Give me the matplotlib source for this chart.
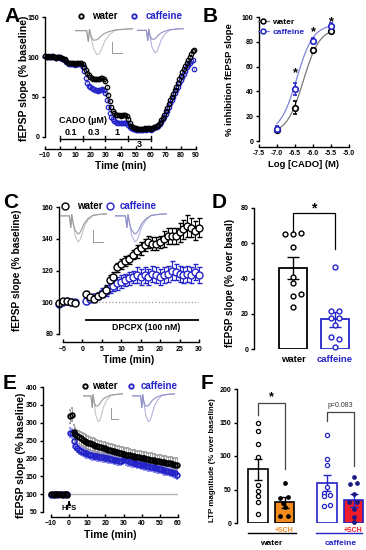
import numpy as np
import matplotlib.pyplot as plt
from matplotlib.lines import Line2D

plt.rcParams['font.family'] = ['Liberation Sans', 'DejaVu Sans']
plt.rcParams['font.weight'] = 'bold'
plt.rcParams['axes.labelweight'] = 'bold'
plt.rcParams['axes.linewidth'] = 1.0
plt.rcParams['xtick.major.width'] = 1.0
plt.rcParams['ytick.major.width'] = 1.0

BLUE = '#2424c8'
LBLUE = '#8c8ce6'
GREY = '#9a9a9a'
ORANGE = '#f28a1c'
RED = '#ee1c2a'
NAVY = '#1a1a80'

# ---------------- A: CADO time course ----------------
a_time = np.arange(-10, 90)
a_water = [101, 100, 101, 100, 100, 101, 100, 99, 100, 100,
           100, 99, 98, 97, 95,
           93, 92, 92, 92, 92, 91, 92, 92, 92, 93,
           91, 88, 84, 80, 77,
           75, 74, 73, 72, 73, 72, 73, 74, 74, 73,
           70, 62, 53, 45, 38,
           33, 30, 28, 27, 27, 26, 27, 27, 27, 26,
           22, 17, 14, 12, 11,
           11, 10, 10, 10, 10, 10, 11, 10, 11, 11,
           10, 11, 12, 13, 14,
           15, 18, 21, 24, 28, 32, 36, 41, 46, 50,
           54, 59, 63, 68, 72, 76, 81, 85, 89, 93,
           96, 100, 104, 107, 109]
a_caff = [101, 100, 100, 100, 101, 100, 100, 99, 100, 100,
          99, 98, 97, 96, 94,
          92, 91, 91, 91, 91, 90, 91, 91, 91, 91,
          88, 82, 74, 68, 64,
          62, 61, 60, 59, 59, 58, 59, 59, 60, 59,
          55, 46, 37, 30, 25,
          22, 20, 19, 18, 18, 18, 17, 18, 18, 17,
          15, 13, 11, 10, 10,
          9, 9, 9, 9, 9, 9, 10, 9, 10, 10,
          9, 10, 11, 12, 13,
          14, 16, 19, 22, 25, 29, 33, 37, 42, 46,
          50, 55, 59, 63, 67, 71, 75, 79, 83, 87,
          90, 92, 95, 96, 85]
a_water_err = 2.5
a_caff_err = 3.0
cado_conc = ['0.1', '0.3', '1', '3']
cado_start = [0, 15, 30, 45]
cado_len = 15

# ---------------- B: concentration-response ----------------
b_logc = [-7.0, -6.5, -6.0, -5.5]
b_water = [9, 27, 73, 89]
b_water_err = [2, 5, 2, 2]
b_caff = [10, 42, 81, 93]
b_caff_err = [2, 5, 2, 2]
fit_water = dict(bottom=6, top=91, logec50=-6.27, hill=1.9)
fit_caff = dict(bottom=7, top=94, logec50=-6.45, hill=1.9)
b_star_x = [-6.5, -6.0, -5.5]
b_star_y = [55, 88, 96]

# ---------------- C: DPCPX ----------------
c_time_pre = [-6, -5, -4, -3, -2]
c_water_pre = [99.5, 100.5, 101, 100, 99.5]
c_caff_pre = [99, 100, 100.5, 100, 100]
c_time = np.arange(1, 31)
c_water = [105, 103, 102, 104, 105, 108, 114, 116, 122, 124,
           126, 127, 130, 132, 134, 136, 138, 137, 137, 138,
           140, 142, 142, 142, 144, 146, 148, 147, 145, 147]
c_water_err = [2, 2, 2, 2, 2, 3, 3, 3, 3, 3,
               3, 3, 3, 4, 4, 4, 4, 4, 4, 4,
               5, 5, 5, 5, 6, 6, 7, 6, 6, 6]
c_caff = [101, 102, 103, 104, 106, 107, 109, 110, 112, 113,
          114, 115, 116, 117, 116, 117, 116, 118, 117, 116,
          117, 118, 120, 119, 118, 117, 118, 117, 119, 117]
c_caff_err = [2, 2, 2, 2, 3, 3, 3, 3, 4, 4,
              4, 4, 4, 5, 5, 5, 5, 5, 5, 5,
              5, 5, 6, 5, 5, 5, 5, 5, 5, 5]

# ---------------- D: DPCPX effect ----------------
d_groups = ['water', 'caffeine']
d_mean = [46, 16.8]
d_sem = [6, 4.3]
d_water_pts = [65.2, 65.2, 65.8, 57.6, 40.6, 37.3, 30.3, 31.1, 23.9]
d_water_dx = [-0.2, 0.0, 0.2, 0.0, 0.0, 0.0, 0.0, 0.2, 0.0]
d_caff_pts = [46.3, 21.8, 21.8, 17.8, 17.8, 13.6, 7.0, 5.7, 0.9]
d_caff_dx = [0.0, -0.1, 0.1, -0.1, 0.1, 0.0, -0.1, 0.1, 0.0]

# ---------------- E: LTP time course ----------------
e_time_pre = np.arange(-10, 0)
e_water_pre = [101, 100, 99, 100, 101, 100, 99, 100, 100, 99]
e_caff_pre = [98, 99, 100, 100, 99, 101, 100, 99, 100, 100]
e_time = np.arange(0, 60) + 0.5
e_water = [318, 323, 275, 268, 263, 259, 256, 253, 250, 247,
           244, 242, 240, 238, 236, 234, 232, 231, 229, 228,
           226, 225, 223, 222, 220, 219, 217, 216, 214, 213,
           212, 211, 210, 209, 207, 206, 205, 204, 203, 202,
           201, 200, 199, 198, 197, 196, 195, 194, 193, 192,
           191, 190, 189, 188, 187, 186, 185, 184, 183, 182]
e_caff = [272, 270, 248, 236, 229, 224, 221, 218, 216, 214,
          212, 211, 209, 208, 207, 206, 205, 204, 203, 202,
          201, 200, 199, 198, 197, 196, 195, 194, 193, 197,
          199, 195, 192, 190, 189, 188, 187, 185, 184, 183,
          182, 181, 179, 178, 177, 176, 175, 173, 172, 171,
          170, 168, 167, 166, 165, 163, 162, 160, 158, 155]
e_water_err = 18
e_caff_err = 12

# ---------------- F: LTP magnitude ----------------
f_pos = [0, 1, 2.6, 3.6]
f_mean = [80, 31, 60, 34]
f_sem = [16, 8, 12, 10]
f_water = [149, 137, 118, 99, 56, 48, 41, 31, 13]
f_water_sch = [60, 38, 39, 30, 24, 11, 11]
f_water_sch_dx = [0, -0.16, 0.13, -0.06, 0, -0.16, 0.13]
f_caff = [131, 96, 87, 53, 45, 40, 42, 25, 27]
f_caff_dx = [0, 0, 0, 0, -0.13, -0.13, 0.13, -0.13, 0.13]
f_caff_sch = [68, 58, 60, 44, 31, 31, 21, 9, 1.5]
f_caff_sch_dx = [0, -0.14, 0.14, 0, -0.16, 0.14, 0, 0, 0]

# inset traces (normalised)
trace_t = [0.00, 0.20, 0.23, 0.25, 0.28, 0.32, 0.38, 0.42, 0.46, 0.52, 0.60, 0.70, 0.85, 1.00]
trace_deep = [0.00, 0.00, -0.45, 0.05, -0.30, -0.75, -1.00, -0.95, -0.75, -0.40, -0.15, 0.02, 0.06, 0.08]
trace_small = [0.00, 0.00, -0.45, 0.05, -0.25, -0.40, -0.38, -0.30, -0.20, -0.10, -0.03, 0.03, 0.06, 0.08]
trace_mid = [0.00, 0.00, -0.45, 0.05, -0.28, -0.55, -0.70, -0.66, -0.52, -0.28, -0.10, 0.02, 0.06, 0.08]

W, H = 366, 550
fig = plt.figure(figsize=(W / 100, H / 100), dpi=100)


def px_axes(x0, x1, ytop, ybot):
    return fig.add_axes([x0 / W, 1 - ybot / H, (x1 - x0) / W, (ybot - ytop) / H])


def ftext(x, y, s, **kw):
    fig.text(x / W, 1 - y / H, s, **kw)


def prism(ax, xoff=0, ybounds=None, xbounds=None):
    ax.spines['top'].set_visible(False)
    ax.spines['right'].set_visible(False)
    ax.spines['bottom'].set_position(('outward', xoff))
    ax.patch.set_visible(False)
    ax.tick_params(axis='both', labelsize=5, length=2.5, pad=1.5)
    ax.tick_params(axis='x', direction='in', pad=2.5)
    if ybounds:
        ax.spines['left'].set_bounds(*ybounds)
    if xbounds:
        ax.spines['bottom'].set_bounds(*xbounds)


def inset(x0, x1, ytop, ybot, t1, t2, c1, c2):
    ia = px_axes(x0, x1, ytop, ybot)
    ia.plot(trace_t, t1, color=c1, lw=0.8)
    ia.plot(trace_t, t2, color=c2, lw=0.8)
    ia.set_xlim(0, 1)
    ia.set_ylim(-1.05, 0.15)
    ia.axis('off')


# ---------------- panel A ----------------
axA = px_axes(45, 196, 17, 137)
axA.errorbar(a_time, a_caff, yerr=a_caff_err, fmt='o', ms=3.2, mfc='none', mec=BLUE, mew=0.9,
             ecolor=LBLUE, elinewidth=0.5, capsize=0, clip_on=False)
axA.errorbar(a_time, a_water, yerr=a_water_err, fmt='o', ms=3.2, mfc='none', mec='k', mew=0.9,
             ecolor='#777777', elinewidth=0.5, capsize=0, clip_on=False)
axA.set_xlim(-10, 90)
axA.set_ylim(0, 150)
axA.set_xticks(range(-10, 91, 10))
axA.set_yticks([0, 50, 100, 150])
prism(axA, xoff=8.6, ybounds=(0, 150), xbounds=(-10, 90))
axA.set_xlabel('Time (min)', fontsize=7.3, labelpad=1.5)
axA.plot([cado_start[0], cado_start[-1] + cado_len], [-2, -2], color='k', lw=1, clip_on=False)
for s in cado_start + [cado_start[-1] + cado_len]:
    axA.plot([s, s], [-5, 1], color='k', lw=1, clip_on=False)
for s, c in zip(cado_start, cado_conc):
    if c == '3':
        axA.text(s + cado_len / 2, -4, c, ha='center', va='top', fontsize=6.5)
    else:
        axA.text(s + cado_len / 2, 0.5, c, ha='center', va='bottom', fontsize=6.5)
axA.text(-0.7, 20, 'CADO (\u00b5M)', ha='left', va='center', fontsize=6.5)
ftext(24, 78, 'fEPSP slope (% baseline)', rotation=90, ha='center', va='center', fontsize=7.6)

# ---------------- panel B ----------------
axB = px_axes(259, 349, 17, 141)
xs = np.linspace(-7.0, -5.5, 120)
for fit, col in [(fit_water, '#7a7a7a'), (fit_caff, '#8282d8')]:
    ys = fit['bottom'] + (fit['top'] - fit['bottom']) / (1 + 10 ** ((fit['logec50'] - xs) * fit['hill']))
    axB.plot(xs, ys, color=col, lw=0.9)
axB.errorbar(b_logc, b_water, yerr=b_water_err, fmt='o', ms=4, mfc='white', mec='k', mew=1.2,
             ecolor='k', elinewidth=0.8, capsize=1.5, zorder=3)
axB.errorbar(b_logc, b_caff, yerr=b_caff_err, fmt='o', ms=4, mfc='white', mec=BLUE, mew=1.2,
             ecolor=BLUE, elinewidth=0.8, capsize=1.5, zorder=4)
for x, y in zip(b_star_x, b_star_y):
    axB.text(x, y, '*', ha='center', va='center', fontsize=9)
axB.set_xlim(-7.5, -5.0)
axB.set_ylim(0, 100)
axB.set_xticks([-7.5, -7.0, -6.5, -6.0, -5.5, -5.0])
axB.set_xticklabels(['-7.5', '-7.0', '-6.5', '-6.0', '-5.5', '-5.0'])
axB.set_yticks(range(0, 101, 20))
prism(axB, xoff=4.3, ybounds=(0, 100), xbounds=(-7.5, -5.0))
axB.set_xlabel('Log [CADO] (M)', fontsize=6.8, labelpad=2)
hB = [Line2D([0], [0], color='#7a7a7a', lw=0.9, marker='o', ms=3.5, mfc='white', mec='k', mew=1.1),
      Line2D([0], [0], color='#8282d8', lw=0.9, marker='o', ms=3.5, mfc='white', mec=BLUE, mew=1.1)]
legB = axB.legend(hB, ['water', 'caffeine'], loc='upper left', bbox_to_anchor=(-0.02, 1.0),
                  frameon=False, fontsize=6, handlelength=1.3, handletextpad=0.4,
                  labelspacing=0.25, borderaxespad=0, borderpad=0.1)
legB.get_texts()[1].set_color(BLUE)
ftext(229, 80, '% inhibition fEPSP slope', rotation=90, ha='center', va='center', fontsize=6.8)

# ---------------- panel C ----------------
axC = px_axes(59, 199, 207, 334)
axC.plot([0, 30], [100, 100], color='#999999', ls=':', lw=0.9)
axC.errorbar(c_time_pre, c_caff_pre, fmt='o', ms=5, mfc='white', mec=BLUE, mew=1.0, clip_on=False)
axC.errorbar(c_time_pre, c_water_pre, fmt='o', ms=5, mfc='white', mec='k', mew=1.0, clip_on=False)
axC.errorbar(c_time, c_caff, yerr=c_caff_err, fmt='o', ms=5, mfc='white', mec=BLUE, mew=1.0,
             ecolor=BLUE, elinewidth=0.8, capsize=1.8, clip_on=False)
axC.errorbar(c_time, c_water, yerr=c_water_err, fmt='o', ms=5, mfc='white', mec='k', mew=1.0,
             ecolor='k', elinewidth=0.8, capsize=1.8, clip_on=False)
axC.plot([1, 30], [89, 89], color='k', lw=1.3)
axC.text(16.4, 84, 'DPCPX (100 nM)', ha='center', va='center', fontsize=6.3)
axC.set_xlim(-6, 30)
axC.set_ylim(80, 160)
axC.set_xticks(range(-5, 31, 5))
axC.set_yticks(range(80, 161, 20))
prism(axC, xoff=5.8, ybounds=(80, 160), xbounds=(-5, 30))
axC.set_xlabel('Time (min)', fontsize=7.3, labelpad=1.5)
ftext(17, 270, 'fEPSP slope (% baseline)', rotation=90, ha='center', va='center', fontsize=7.3)

# ---------------- panel D ----------------
axD = px_axes(254, 356, 208, 349)
axD.bar([0], [d_mean[0]], width=0.67, color='white', edgecolor='k', lw=1.3)
axD.bar([1], [d_mean[1]], width=0.67, color='white', edgecolor=BLUE, lw=1.3)
axD.errorbar([0], [d_mean[0]], yerr=[d_sem[0]], fmt='none', ecolor='k', elinewidth=1, capsize=4, capthick=1)
axD.errorbar([1], [d_mean[1]], yerr=[d_sem[1]], fmt='none', ecolor=BLUE, elinewidth=1, capsize=4, capthick=1)
axD.plot(np.array(d_water_dx), d_water_pts, 'o', ms=3.5, mfc='white', mec='k', mew=1.0, clip_on=False)
axD.plot(1 + np.array(d_caff_dx), d_caff_pts, 'o', ms=3.5, mfc='white', mec=BLUE, mew=1.0, clip_on=False)
axD.plot([0, 0, 1, 1], [67, 77, 77, 57], color='k', lw=0.9)
axD.text(0.5, 80, '*', ha='center', va='center', fontsize=10)
axD.set_xlim(-0.93, 1.5)
axD.set_ylim(0, 80)
axD.set_yticks(range(0, 81, 20))
prism(axD, ybounds=(0, 80))
axD.spines['bottom'].set_visible(False)
axD.set_xticks([0, 1])
axD.set_xticklabels(d_groups, fontsize=6.8)
axD.tick_params(axis='x', length=0, pad=4)
axD.get_xticklabels()[1].set_color(BLUE)
ftext(230, 283, 'fEPSP slope (% over basal)', rotation=90, ha='center', va='center', fontsize=7.1)

# ---------------- panel E ----------------
axE = px_axes(43, 178, 387, 512)
axE.plot([0.5, 60], [100, 100], color='#b4b4b4', lw=1)
axE.errorbar(e_time, e_caff, yerr=e_caff_err, fmt='o', ms=3.4, mfc='none', mec=BLUE, mew=1.2,
             ecolor='#8080ee', elinewidth=0.6, capsize=1, clip_on=False)
axE.errorbar(e_time, e_water, yerr=e_water_err, fmt='o', ms=3.4, mfc='none', mec='k', mew=1.2,
             ecolor='#9a9a9a', elinewidth=0.6, capsize=1, clip_on=False)
axE.plot(e_time_pre, e_caff_pre, 'o', ms=3.4, mfc='none', mec=BLUE, mew=1.2, clip_on=False)
axE.plot(e_time_pre, e_water_pre, 'o', ms=3.4, mfc='none', mec='k', mew=1.2, clip_on=False)
axE.annotate('', xy=(0, 88), xytext=(0, 70),
             arrowprops=dict(arrowstyle='-|>', color='k', lw=1, mutation_scale=5))
axE.text(0, 61, 'HFS', ha='center', va='center', fontsize=5.5)
axE.set_xlim(-14.4, 60)
axE.set_ylim(50, 400)
axE.set_xticks(range(-10, 61, 10))
axE.set_yticks(range(50, 401, 50))
prism(axE, xoff=3.6, ybounds=(50, 400), xbounds=(-10, 60))
axE.set_xlabel('Time (min)', fontsize=7.5, labelpad=1.5)
ftext(21, 455, 'fEPSP slope (% baseline)', rotation=90, ha='center', va='center', fontsize=7.6)

# ---------------- panel F ----------------
axF = px_axes(237, 366, 389, 523)
bw = 0.75
axF.bar([f_pos[0]], [f_mean[0]], width=bw, color='white', edgecolor='k', lw=1.2)
axF.bar([f_pos[1]], [f_mean[1]], width=bw, color=ORANGE, edgecolor='k', lw=1.2)
axF.bar([f_pos[2]], [f_mean[2]], width=bw, color='white', edgecolor=BLUE, lw=1.2)
axF.bar([f_pos[3]], [f_mean[3]], width=bw, color=RED, edgecolor=BLUE, lw=1.2)
for p, m, e, c in zip(f_pos, f_mean, f_sem, ['k', 'k', BLUE, BLUE]):
    axF.errorbar([p], [m], yerr=[e], fmt='none', ecolor=c, elinewidth=1, capsize=3, capthick=1)
axF.plot([f_pos[0]] * len(f_water), f_water, 'o', ms=3, mfc='white', mec='k', mew=0.9)
axF.plot(f_pos[1] + np.array(f_water_sch_dx), f_water_sch, 'o', ms=2.4, color='k')
axF.plot(f_pos[2] + np.array(f_caff_dx), f_caff, 'o', ms=3, mfc='white', mec=BLUE, mew=0.9)
axF.plot(f_pos[3] + np.array(f_caff_sch_dx), f_caff_sch, 'o', ms=2.4, color=NAVY, clip_on=False)
axF.plot([0, 0, 1, 1], [161, 179, 179, 81], color='#444444', lw=0.9)
axF.text(0.5, 188, '*', ha='center', va='center', fontsize=9)
axF.plot([2.6, 2.6, 3.6, 3.6], [152, 165, 165, 85], color='#444444', lw=0.9)
axF.text(3.1, 175, 'p=0.083', ha='center', va='center', fontsize=5, fontweight='normal', color='#333333')
axF.text(1, -10.5, '+SCH', ha='center', va='center', fontsize=5, color=ORANGE)
axF.text(3.6, -10.5, '+SCH', ha='center', va='center', fontsize=5, color=RED)
axF.plot([-0.38, 1.43], [-15, -15], color='k', lw=1, clip_on=False)
axF.plot([2.19, 3.92], [-15, -15], color=BLUE, lw=1, clip_on=False)
axF.text(0.5, -30, 'water', ha='center', va='center', fontsize=6)
axF.text(3.1, -30, 'caffeine', ha='center', va='center', fontsize=6, color=BLUE)
axF.set_xlim(-0.79, 4.07)
axF.set_ylim(0, 200)
axF.set_yticks(range(0, 201, 50))
prism(axF, ybounds=(0, 200))
axF.spines['bottom'].set_visible(False)
axF.set_xticks([])
ftext(213, 460, 'LTP magnitude (% over baseline)', rotation=90, ha='center', va='center', fontsize=5.7)

# ---------------- insets (example traces) ----------------
inset(75, 133, 27, 56, trace_deep, trace_small, '#c4c4c4', '#9a9a9a')
inset(137, 184, 27, 54, trace_deep, trace_small, '#b4b4e0', '#9090c8')
inset(60, 107, 212, 243, trace_deep, trace_mid, '#c4c4c4', '#9a9a9a')
inset(115, 167, 212, 243, trace_deep, trace_mid, '#b4b4e0', '#9090c8')
inset(83, 123, 392, 423, trace_deep, trace_small, '#c4c4c4', '#9a9a9a')
inset(132, 175, 392, 423, trace_deep, trace_small, '#b4b4e0', '#9090c8')

# ---------------- overlay: legends, scale bars, panel letters ----------------
ov = fig.add_axes([0, 0, 1, 1])
ov.set_xlim(0, W)
ov.set_ylim(H, 0)
ov.axis('off')
for (mx, tx, y, ms, mew, cx, ctx) in [(81, 92, 16, 3.2, 1.3, 134, 146),
                                      (65, 77, 206, 5, 1.0, 110, 120),
                                      (85, 92, 386, 3.2, 1.3, 131, 141)]:
    ov.plot([mx], [y], 'o', ms=ms, mfc='none', mec='k', mew=mew)
    ov.text(tx, y, 'water', ha='left', va='center', fontsize=7)
    ov.plot([cx], [y], 'o', ms=ms, mfc='none', mec=BLUE, mew=mew)
    ov.text(ctx, y, 'caffeine', ha='left', va='center', fontsize=7, color=BLUE)
for (sx, sy0, sy1, sx1) in [(112, 42, 53, 122), (93, 230, 242, 103), (111, 408, 419, 118)]:
    ov.plot([sx, sx, sx1], [sy0, sy1, sy1], color='#888888', lw=0.6)

for (x, y, s) in [(4, 7, 'A'), (203, 7, 'B'), (3, 193, 'C'), (212, 193, 'D'), (3, 374, 'E'), (201, 374, 'F')]:
    ftext(x, y, s, ha='left', va='top', fontsize=15, fontweight='bold')

fig.savefig('out.png', dpi=100)
